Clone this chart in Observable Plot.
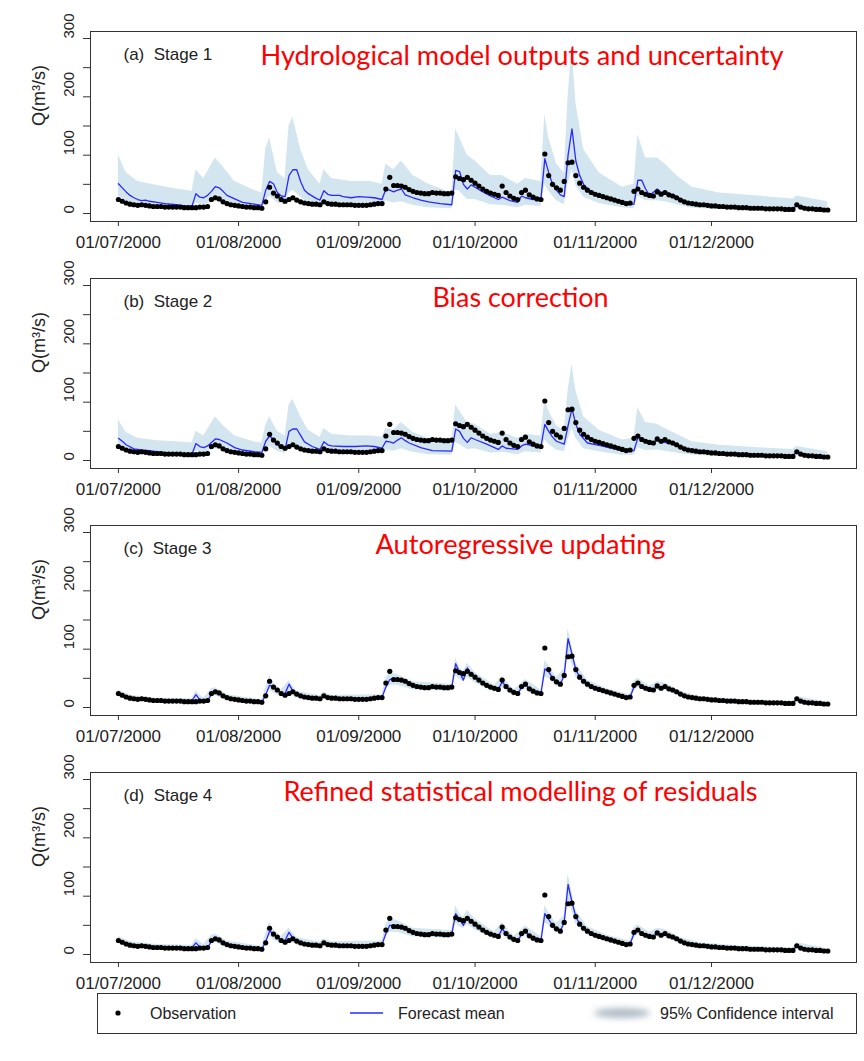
<!DOCTYPE html>
<html><head><meta charset="utf-8">
<script src="https://cdn.jsdelivr.net/npm/d3@7"></script>
<script src="https://cdn.jsdelivr.net/npm/@observablehq/plot@0.6"></script>
<style>
body{margin:0;background:#fff;width:864px;}
#chart svg{display:block;overflow:visible;background:transparent}
</style></head><body><div id="chart"></div>
<script>
// ---------- DATA ----------
const startDate = Date.UTC(2000, 6, 1); // 01/07/2000, day index 0
const monthTickLabels = ["01/07/2000","01/08/2000","01/09/2000","01/10/2000","01/11/2000","01/12/2000"];
const yTickLabels = [0, 100, 200, 300];
const yTickMarks = [0, 50, 100, 150, 200, 250, 300];

// daily observed discharge (m3/s), 01/07/2000 .. 31/12/2000
const obs = [
 24,21,18,16,15,14,15,14,13,12,
 12,12,11,11,11,11,11,10,10,10,
 10,11,11,12,24,27,25,20,17,15,
 14,13,12,11,11,10,10,9,20,45,
 35,30,24,21,24,27,23,20,18,17,
 16,16,15,20,17,16,16,15,15,15,
 15,14,14,14,14,15,16,17,17,42,
 62,48,48,47,45,41,38,36,35,34,
 34,36,35,35,34,34,35,63,60,58,
 62,57,52,47,42,38,35,33,31,47,
 36,30,26,24,36,40,32,28,25,24,
 102,65,50,44,40,55,87,88,65,52,
 45,40,36,33,31,29,27,25,23,21,
 19,17,18,38,42,36,33,31,30,37,
 33,36,32,30,27,23,20,18,17,16,
 15,15,14,13,13,12,12,11,11,11,
 10,10,10,9,9,9,9,8,8,8,
 8,8,7,7,7,15,11,9,8,8,
 7,7,6,6];

// Stage 1 forecast mean: [day, value]
const meanA = [[0,51],[1,44],[2,37],[3,31],[4,27],[5,24],[6,22],[7,23],[8,21],[10,19],[12,17],[15,15],[18,12],[19,13],[20,34],[21,28],[22,27],[23,31],[24,38],[25,46],[26,44],[27,38],[28,31],[30,25],[32,19],[35,16],[37,14],[38,40],[39,55],[40,51],[41,36],[42,30],[43,29],[44,65],[45,75],[46,75],[47,55],[48,40],[49,34],[51,26],[52,23],[53,39],[54,33],[55,31],[57,31],[58,29],[60,27],[62,29],[64,28],[66,27],[68,24],[69,42],[70,40],[71,37],[72,40],[73,42],[74,32],[76,27],[78,23],[80,20],[83,17],[86,15],[87,74],[88,72],[89,50],[90,42],[91,49],[92,45],[94,37],[96,30],[98,24],[99,28],[100,25],[101,22],[103,19],[104,30],[105,27],[107,24],[109,25],[110,94],[111,70],[112,50],[113,40],[114,32],[115,29],[116,100],[117,145],[118,90],[119,65],[120,50],[121,43],[122,38],[124,31],[127,26],[130,19],[131,15],[133,16],[134,57],[135,57],[136,42],[137,31],[139,42],[140,36],[141,38],[142,34],[144,29],[146,21],[148,17],[152,14],[156,12],[160,11],[165,10],[170,9],[174,8],[175,14],[176,11],[180,8],[183,6]];
// Stage 1 95% CI: [day, lower, upper]
const ciA = [[0,30,100],[2,22,70],[5,14,55],[10,10,48],[15,8,42],[19,6,38],[20,18,75],[22,14,60],[25,22,95],[27,20,80],[30,13,55],[35,8,40],[37,7,35],[38,20,110],[39,30,130],[41,18,70],[43,14,60],[44,35,150],[45,40,165],[47,28,110],[49,18,75],[52,12,50],[53,20,75],[55,16,60],[60,14,55],[65,14,55],[68,12,50],[69,22,85],[71,18,75],[73,20,90],[76,14,65],[80,10,50],[86,8,35],[87,40,145],[88,38,130],[90,24,100],[92,24,90],[96,15,65],[99,14,65],[103,10,50],[105,14,60],[109,12,55],[110,50,170],[111,38,130],[113,22,85],[115,15,70],[116,50,200],[117,75,285],[118,48,190],[120,28,110],[124,17,70],[130,10,45],[133,8,50],[134,30,135],[136,22,95],[139,22,95],[141,20,85],[144,15,65],[148,9,45],[155,7,35],[165,6,30],[174,5,25],[175,8,30],[183,4,20]];

// Stage 2
const meanB = [[0,38],[1,33],[2,27],[4,20],[6,18],[8,17],[10,15],[14,12],[18,10],[19,11],[20,29],[21,24],[22,22],[23,25],[24,31],[25,37],[26,36],[28,30],[30,22],[32,18],[35,15],[37,14],[38,33],[39,42],[40,36],[41,27],[42,22],[43,19],[44,50],[45,54],[46,54],[47,43],[48,32],[50,24],[52,19],[53,32],[54,27],[55,25],[58,24],[61,24],[64,25],[66,24],[68,21],[69,33],[70,32],[71,30],[72,35],[73,39],[74,34],[75,30],[78,22],[81,17],[86,16],[87,54],[88,50],[89,38],[90,31],[91,39],[92,36],[95,28],[98,19],[99,25],[100,21],[103,19],[104,25],[105,28],[107,25],[109,24],[110,62],[111,50],[112,40],[113,33],[115,28],[116,60],[117,89],[118,62],[119,45],[121,30],[124,26],[128,20],[131,16],[133,17],[134,39],[135,39],[137,30],[139,34],[140,32],[142,30],[145,23],[148,16],[152,13],[158,12],[165,10],[170,9],[174,8],[175,16],[176,12],[180,8],[183,6]];
const ciB = [[0,20,70],[2,16,48],[5,11,38],[10,9,34],[15,7,32],[19,6,30],[20,16,50],[22,13,42],[25,20,75],[27,18,60],[30,12,42],[35,8,32],[37,7,30],[38,18,60],[39,24,75],[41,16,50],[43,12,42],[44,28,95],[45,30,105],[47,22,75],[49,15,52],[52,11,40],[53,18,55],[55,14,45],[60,13,42],[65,13,42],[68,11,40],[69,18,55],[71,16,52],[73,20,65],[76,14,48],[80,10,38],[86,9,32],[87,30,95],[88,28,85],[90,19,65],[92,20,62],[96,13,45],[99,14,48],[103,10,38],[105,15,45],[109,13,42],[110,35,105],[111,28,85],[113,18,60],[115,15,50],[116,35,120],[117,55,165],[118,38,120],[120,20,75],[124,15,52],[130,9,35],[133,9,38],[134,22,90],[136,17,65],[139,18,62],[141,16,55],[144,13,45],[148,9,32],[155,7,26],[165,6,22],[174,5,19],[175,8,24],[183,4,15]];

// Stage 3 daily forecast mean
const meanC = [
 24,21,18,16,15,14,15,14,13,12,
 12,12,11,11,11,11,11,10,10,12,
 22,13,11,12,22,28,25,20,17,15,
 14,13,12,11,11,10,10,9,22,38,
 36,30,24,24,40,28,23,20,18,17,
 16,16,15,20,17,16,16,15,15,15,
 15,14,14,14,14,15,16,17,17,35,
 48,50,48,47,45,41,38,36,35,34,
 34,36,35,35,34,34,35,75,60,47,
 68,57,52,47,42,38,35,33,31,44,
 36,30,26,24,34,40,32,28,25,24,
 66,62,50,44,40,55,118,92,65,52,
 45,40,36,33,31,29,27,25,23,21,
 19,17,18,35,44,36,33,31,30,37,
 33,36,32,30,27,23,20,18,17,16,
 15,15,14,13,13,12,12,11,11,11,
 10,10,10,9,9,9,9,8,8,8,
 8,8,7,7,7,15,11,9,8,8,
 7,7,6,6];
const ciC = [[0,19,30],[3,12,21],[10,8,16],[19,7,15],[20,12,28],[22,8,16],[24,18,32],[25,20,34],[28,12,22],[37,6,13],[39,32,55],[40,25,42],[42,18,30],[44,24,46],[46,16,28],[52,11,20],[53,15,26],[55,12,21],[68,13,22],[69,30,50],[70,38,60],[72,38,56],[76,30,44],[86,28,40],[87,55,85],[88,48,68],[89,44,62],[90,52,76],[92,42,60],[97,26,38],[99,34,54],[102,19,30],[105,32,48],[109,19,30],[110,52,80],[111,50,72],[113,36,52],[115,48,66],[116,90,135],[117,75,105],[118,52,75],[121,33,47],[126,21,32],[132,13,22],[133,28,45],[134,34,50],[137,25,37],[139,30,44],[141,29,42],[145,18,28],[150,11,19],[160,7,14],[174,5,10],[175,10,19],[183,4,9]];

// Stage 4 daily forecast mean
const meanD = [
 24,21,18,16,15,14,15,14,13,12,
 12,12,11,11,11,11,11,10,10,12,
 20,13,11,12,22,28,25,20,17,15,
 14,13,12,11,11,10,10,9,22,40,
 36,30,24,24,38,28,23,20,18,17,
 16,16,15,20,17,16,16,15,15,15,
 15,14,14,14,14,15,16,17,17,36,
 50,50,48,47,45,41,38,36,35,34,
 34,36,35,35,34,34,35,70,60,50,
 64,57,52,47,42,38,35,33,31,44,
 36,30,26,24,34,40,32,28,25,24,
 70,60,50,44,40,55,120,90,65,52,
 45,40,36,33,31,29,27,25,23,21,
 19,17,18,36,43,36,33,31,30,37,
 33,36,32,30,27,23,20,18,17,16,
 15,15,14,13,13,12,12,11,11,11,
 10,10,10,9,9,9,9,8,8,8,
 8,8,7,7,7,15,11,9,8,8,
 7,7,6,6];
const ciD = [[0,19,31],[3,12,22],[10,8,17],[19,7,16],[20,12,27],[22,8,17],[24,18,33],[25,20,35],[28,12,23],[37,6,14],[39,32,56],[40,25,43],[42,18,31],[44,24,45],[46,16,29],[52,11,21],[53,15,27],[55,12,22],[68,13,23],[69,30,52],[70,38,62],[72,38,58],[76,30,45],[86,28,41],[87,54,84],[88,48,70],[89,44,64],[90,52,76],[92,42,61],[97,26,39],[99,34,55],[102,19,31],[105,32,49],[109,19,31],[110,54,84],[111,50,72],[113,36,53],[115,48,67],[116,92,138],[117,74,106],[118,52,76],[121,33,48],[126,21,33],[132,13,23],[133,28,46],[134,34,51],[137,25,38],[139,30,45],[141,29,43],[145,18,29],[150,11,20],[160,7,15],[174,5,11],[175,10,20],[183,4,10]];

const panelLabels = ["(a)  Stage 1","(b)  Stage 2","(c)  Stage 3","(d)  Stage 4"];
const panelTitles = ["Hydrological model outputs and uncertainty","Bias correction","Autoregressive updating","Refined statistical modelling of residuals"];
const legendLabels = ["Observation","Forecast mean","95% Confidence interval"];

// ---------- LAYOUT / STYLE ----------
const titleLayout = [ {x:260, base:33, w:523}, {x:432, base:28, w:176}, {x:375, base:28, w:290}, {x:283, base:28, w:474} ];
const dayMs = 86400000;
const toDate = d => new Date(startDate + d * dayMs);
const parseDM = d3.utcParse("%d/%m/%Y");
const fmtDM = d3.utcFormat("%d/%m/%Y");
const font = "'Liberation Sans', Arial, Helvetica, sans-serif";

const obsRows = obs.map((v, i) => ({date: toDate(i), v}));
const series = [
  {mean: meanA.map(([d, v]) => ({date: toDate(d), v})), ci: ciA},
  {mean: meanB.map(([d, v]) => ({date: toDate(d), v})), ci: ciB},
  {mean: meanC.map((v, i) => ({date: toDate(i), v})), ci: ciC},
  {mean: meanD.map((v, i) => ({date: toDate(i), v})), ci: ciD}
];

const chart = document.getElementById("chart");

series.forEach((s, k) => {
  const ciRows = s.ci.map(([d, lo, hi]) => ({date: toDate(d), lo, hi}));
  const tl = titleLayout[k];
  const p = Plot.plot({
    width: 864, height: 247,
    marginLeft: 90, marginRight: 8, marginTop: 31, marginBottom: 26,
    x: {type: "utc", domain: [toDate(-7.2), toDate(190.4)]},
    y: {domain: [-13.7, 312]},
    style: {fontFamily: font, background: "transparent", overflow: "visible", color: "#222"},
    marks: [
      Plot.areaY(ciRows, {x: "date", y1: "lo", y2: "hi", fill: "#c8dfeb", fillOpacity: 0.8}),
      Plot.lineY(s.mean, {x: "date", y: "v", stroke: "#2a2aff", strokeWidth: 1.3}),
      Plot.dot(obsRows, {x: "date", y: "v", r: 2.6, fill: "#000", stroke: null}),
      Plot.frame({stroke: "#333", strokeWidth: 1}),
      Plot.axisX({ticks: monthTickLabels.map(parseDM), tickFormat: fmtDM, tickSize: 5, tickPadding: 9, fontSize: 17, label: null, stroke: "#333"}),
      Plot.axisY({ticks: yTickMarks, tickSize: 7, tickFormat: () => "", label: null, stroke: "#333"}),
      Plot.text(yTickLabels, {y: d => d, text: d => String(d), frameAnchor: "left", dx: -21, rotate: -90, fontSize: 15, fill: "#222"}),
      Plot.text([150], {y: d => d, text: () => "Q(m³/s)", frameAnchor: "left", dx: -51, rotate: -90, fontSize: 18, fill: "#222"}),
      Plot.text([panelLabels[k]], {text: d => d, frameAnchor: "top-left", dx: 33, dy: 16, lineAnchor: "top", textAnchor: "start", fontSize: 17, fill: "#222"}),
      Plot.text([panelTitles[k]], {text: d => d, frameAnchor: "top-left", dx: tl.x - 90, dy: tl.base, lineAnchor: "bottom", textAnchor: "start", fontSize: 27, fill: "#ff0000", fontFamily: "Lato, 'Open Sans', sans-serif"})
    ]
  });
  p.querySelectorAll("text").forEach(t => {
    if (t.textContent === panelTitles[k]) {
      t.setAttribute("textLength", tl.w);
      t.setAttribute("lengthAdjust", "spacingAndGlyphs");
    }
  });
  chart.appendChild(p);
});

// ---------- LEGEND ----------
const lg = d3.select(chart).append("svg").attr("width", 864).attr("height", 73)
  .style("font-family", font);
const defs = lg.append("defs");
defs.append("filter").attr("id", "blur").attr("x", "-50%").attr("y", "-100%").attr("width", "200%").attr("height", "300%")
  .append("feGaussianBlur").attr("stdDeviation", 3);
lg.append("rect").attr("x", 97.5).attr("y", 5.5).attr("width", 759).attr("height", 40).attr("fill", "#fff").attr("stroke", "#333");
const cy = 25;
lg.append("circle").attr("cx", 118).attr("cy", cy).attr("r", 2.6).attr("fill", "#000");
lg.append("text").attr("x", 150).attr("y", cy).attr("dy", "0.35em").attr("font-size", 16).attr("fill", "#222").text(legendLabels[0]);
lg.append("line").attr("x1", 350).attr("x2", 383).attr("y1", cy).attr("y2", cy).attr("stroke", "#2a2aff").attr("stroke-width", 1.5);
lg.append("text").attr("x", 398).attr("y", cy).attr("dy", "0.35em").attr("font-size", 16).attr("fill", "#222").text(legendLabels[1]);
lg.append("ellipse").attr("cx", 622).attr("cy", cy).attr("rx", 28).attr("ry", 5).attr("fill", "#aebbc5").attr("filter", "url(#blur)");
lg.append("text").attr("x", 660).attr("y", cy).attr("dy", "0.35em").attr("font-size", 16).attr("fill", "#222").text(legendLabels[2]);
</script></body></html>
